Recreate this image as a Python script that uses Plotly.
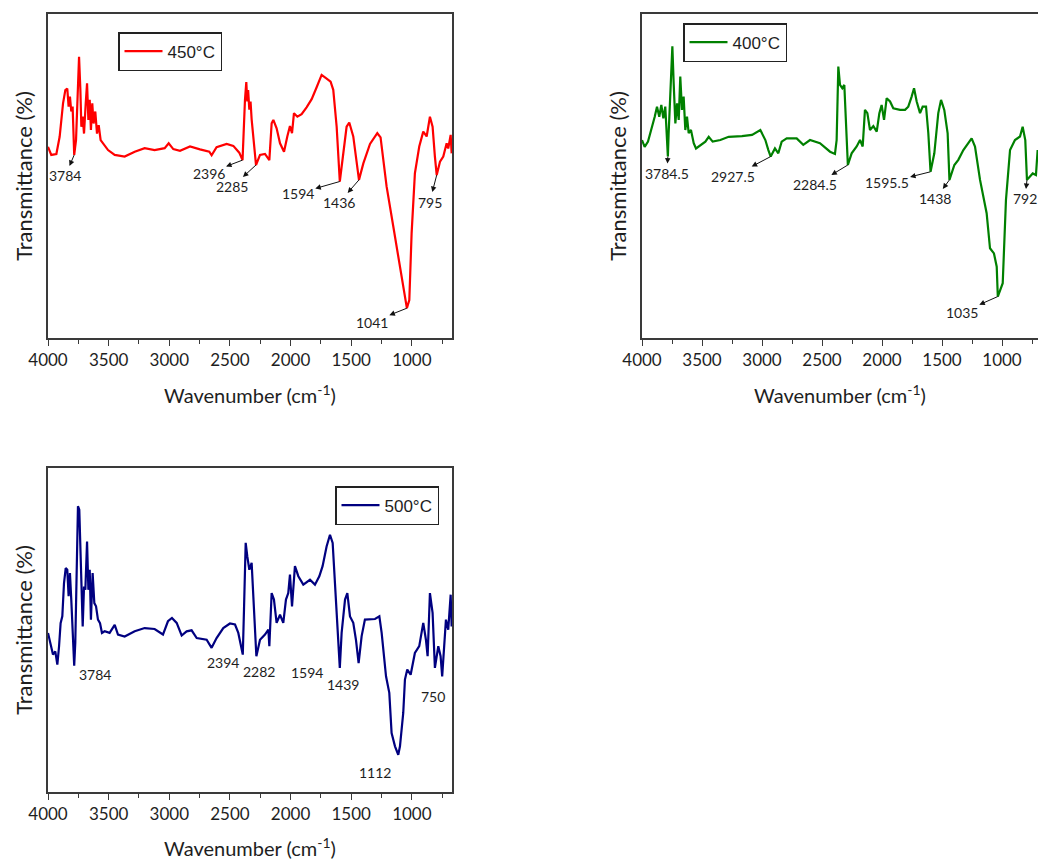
import plotly.graph_objects as go

# ---------------- spectra: wavenumber (cm-1) and transmittance (%) ----------------
wn_450 = [4000, 3973, 3931, 3904, 3876, 3857, 3841, 3830, 3819, 3808, 3797, 3784, 3769, 3758, 3744,
          3733, 3725, 3714, 3703, 3689, 3678, 3667, 3656, 3646, 3635, 3624, 3610, 3596, 3582, 3566,
          3547, 3505, 3450, 3368, 3285, 3203, 3121, 3038, 3005, 2967, 2912, 2829, 2747, 2670, 2651,
          2610, 2527, 2472, 2423, 2396, 2376, 2365, 2357, 2350, 2340, 2330, 2321, 2307, 2285, 2252,
          2211, 2175, 2156, 2142, 2115, 2087, 2054, 2027, 2005, 1988, 1972, 1944, 1909, 1868, 1826,
          1785, 1744, 1708, 1670, 1648, 1620, 1594, 1565, 1538, 1516, 1483, 1436, 1400, 1345, 1285,
          1258, 1208, 1153, 1098, 1057, 1041, 1021, 1002, 975, 939, 906, 878, 851, 829, 810,
          795, 768, 741, 713, 700, 680, 672]
t_450 = [59.0, 56.5, 56.8, 62.1, 72.4, 76.5, 77.0, 71.4, 74.5, 69.9, 71.4, 56.5, 61.1, 74.5, 86.8,
         76.5, 65.2, 68.3, 63.1, 72.4, 78.6, 67.3, 73.5, 64.2, 72.4, 66.2, 69.9, 63.1, 65.7, 61.1,
         60.1, 58.0, 56.5, 56.0, 57.5, 58.6, 58.0, 58.6, 60.1, 58.3, 57.8, 59.1, 58.2, 57.5, 56.4,
         58.9, 59.9, 59.3, 57.2, 54.9, 73.5, 79.0, 73.0, 76.5, 70.5, 73.0, 67.5, 61.1, 53.4, 56.5,
         56.8, 54.9, 66.3, 67.3, 64.7, 60.1, 57.5, 62.2, 65.4, 63.2, 69.4, 68.3, 69.1, 71.2, 73.7,
         77.4, 81.2, 80.2, 79.1, 76.6, 65.2, 48.3, 58.0, 65.2, 66.5, 62.2, 48.8, 53.9, 59.9, 63.2,
         61.9, 46.7, 34.4, 22.0, 13.8, 9.2, 11.7, 32.3, 50.8, 59.1, 63.7, 62.2, 68.3, 65.2, 56.0,
         50.3, 54.4, 56.0, 60.1, 58.5, 62.7, 57.0]

wn_400 = [4000, 3978, 3950, 3922, 3894, 3875, 3856, 3839, 3822, 3806, 3784.5, 3778, 3761, 3747, 3736,
          3722, 3708, 3694, 3681, 3667, 3653, 3639, 3625, 3611, 3592, 3569, 3550, 3514, 3472, 3444,
          3411, 3347, 3278, 3167, 3083, 3014, 2972, 2947, 2927.5, 2892, 2864, 2836, 2794, 2711, 2656,
          2600, 2517, 2433, 2392, 2378, 2364, 2350, 2331, 2314, 2300, 2284.5, 2253, 2211, 2183, 2161,
          2142, 2122, 2100, 2072, 2044, 2022, 2003, 1983, 1961, 1933, 1906, 1850, 1808, 1781, 1753,
          1733, 1711, 1683, 1661, 1633, 1614, 1595.5, 1564, 1531, 1508, 1481, 1453, 1438, 1397, 1364,
          1322, 1253, 1225, 1183, 1128, 1100, 1067, 1044, 1035, 994, 967, 933, 892, 850, 828,
          806, 792, 744, 717, 703]
t_400 = [61.1, 59.0, 60.6, 64.2, 68.3, 71.4, 68.3, 71.9, 67.8, 71.4, 56.0, 63.2, 79.6, 90.0, 78.6,
         66.2, 72.4, 67.3, 80.7, 70.4, 74.5, 64.2, 68.3, 63.2, 64.2, 60.1, 58.5, 59.6, 60.6, 62.1,
         60.6, 61.1, 62.1, 62.3, 62.7, 64.2, 61.1, 58.0, 56.0, 58.5, 57.0, 60.6, 61.6, 61.6, 59.6,
         61.1, 60.1, 57.5, 56.8, 61.1, 83.8, 78.1, 77.1, 78.1, 67.3, 53.4, 57.0, 59.1, 61.1, 59.1,
         70.4, 69.4, 64.2, 65.4, 63.7, 69.4, 71.9, 67.3, 74.0, 73.0, 70.9, 70.4, 70.4, 71.4, 74.5,
         77.1, 73.0, 69.4, 71.4, 71.4, 63.2, 51.3, 57.0, 69.4, 73.5, 70.4, 63.2, 48.8, 53.4, 55.0,
         58.0, 61.6, 59.1, 48.8, 38.5, 27.7, 26.1, 22.0, 12.8, 16.9, 42.6, 58.0, 61.1, 62.2, 65.2,
         61.1, 48.8, 50.8, 50.3, 58.0]

wn_500 = [4000, 3978, 3959, 3940, 3923, 3909, 3896, 3882, 3868, 3854, 3841, 3830, 3819, 3808, 3797,
          3784, 3775, 3764, 3753, 3742, 3733, 3725, 3714, 3703, 3692, 3678, 3667, 3656, 3646, 3632,
          3618, 3604, 3588, 3571, 3555, 3533, 3492, 3450, 3423, 3368, 3285, 3203, 3121, 3052, 3011,
          2978, 2939, 2898, 2857, 2816, 2774, 2692, 2651, 2610, 2555, 2500, 2458, 2431, 2394, 2384,
          2370, 2357, 2340, 2321, 2307, 2282, 2252, 2211, 2183, 2175, 2156, 2137, 2115, 2087, 2060,
          2038, 2019, 2005, 1988, 1964, 1936, 1895, 1840, 1799, 1763, 1736, 1703, 1675, 1653, 1634,
          1615, 1594, 1579, 1551, 1532, 1510, 1483, 1461, 1439, 1414, 1387, 1345, 1304, 1268, 1249,
          1213, 1186, 1167, 1139, 1112, 1098, 1071, 1057, 1038, 1010, 975, 939, 906, 884, 870,
          851, 829, 810, 782, 763, 750, 719, 700, 680, 672]
t_500 = [49.1, 44.9, 42.4, 43.4, 39.3, 44.9, 52.1, 54.2, 64.5, 69.1, 68.6, 60.4, 67.6, 59.3, 50.1,
         39.0, 46.1, 62.5, 88.2, 87.1, 72.7, 59.3, 51.1, 63.4, 62.4, 77.3, 62.4, 68.6, 53.2, 67.6,
         58.3, 57.3, 53.2, 52.1, 49.1, 49.6, 49.1, 51.6, 48.6, 48.0, 49.6, 50.6, 50.3, 48.6, 52.7,
         53.7, 52.2, 48.3, 49.6, 49.9, 47.5, 47.0, 44.5, 47.5, 50.6, 52.0, 51.7, 49.1, 42.4, 56.3,
         76.9, 72.8, 68.6, 70.7, 59.4, 41.9, 47.0, 48.6, 50.1, 45.0, 61.4, 59.4, 52.2, 54.7, 52.2,
         59.4, 61.4, 67.1, 57.3, 69.7, 66.6, 64.0, 65.5, 64.0, 66.6, 69.7, 75.8, 79.4, 76.9, 65.5,
         53.2, 38.3, 49.1, 59.4, 61.4, 54.2, 52.2, 47.0, 39.8, 48.1, 53.2, 53.2, 53.4, 54.2, 49.1,
         35.7, 30.6, 18.2, 14.1, 11.5, 14.1, 24.4, 34.7, 37.8, 36.2, 42.9, 45.0, 52.2, 47.0, 41.9,
         61.4, 55.3, 38.3, 45.0, 41.9, 35.7, 53.2, 50.1, 60.9, 51.1]

# marked band positions (cm-1)
peaks_450 = [3784, 2396, 2285, 1594, 1436, 1041, 795]
peaks_400 = [3784.5, 2927.5, 2284.5, 1595.5, 1438, 1035, 792]
peaks_500 = [3784, 2394, 2282, 1594, 1439, 1112, 750]

# label placement: pixel offset (right, down) from the band to the label centre
offs_450 = [(-9, 21), (-34, 13), (-24, 22), (-42, 12), (-20, 23), (-35, 14), (-7, 27)]
offs_400 = [(-1, 17), (-38, 20), (-33, 20), (-44, 11), (-14, 19), (-36, 16), (-2, 19)]
offs_500 = [(21, 9), (-20, 8), (3, 15), (-33, 5), (-16, 21), (-23, 18), (-9, 20)]

W, H = 1038, 860
FONT = "Lato, 'Open Sans', sans-serif"
LEG_FONT = "'Liberation Sans', Arial, sans-serif"
AXC = "#3a3a3a"
TXT = "#1e1e1e"


def px(v, total):
    return v / total


fig = go.Figure()

panels = [
    dict(name="450°C", wn=wn_450, t=t_450, color="#ff0000", xa="x", ya="y", leg="legend",
         xdom=[px(48, W), px(452, W)], ydom=[1 - px(338, H), 1 - px(14, H)], xr=[4000, 669],
         peaks=peaks_450, offs=offs_450, arrows=True, mirror_y=True),
    dict(name="400°C", wn=wn_400, t=t_400, color="#008000", xa="x2", ya="y2", leg="legend2",
         xdom=[px(642, W), 1.0], ydom=[1 - px(338, H), 1 - px(14, H)], xr=[4000, 700],
         peaks=peaks_400, offs=offs_400, arrows=True, mirror_y=False),
    dict(name="500°C", wn=wn_500, t=t_500, color="#000080", xa="x3", ya="y3", leg="legend3",
         xdom=[px(48, W), px(452, W)], ydom=[1 - px(792, H), 1 - px(468, H)], xr=[4000, 669],
         peaks=peaks_500, offs=offs_500, arrows=False, mirror_y=True),
]

annotations = []
for i, p in enumerate(panels):
    fig.add_trace(go.Scatter(
        x=p["wn"], y=p["t"], mode="lines", name=p["name"],
        line=dict(color=p["color"], width=2.2),
        xaxis=p["xa"], yaxis=p["ya"], legend=p["leg"],
    ))
    suffix = "" if i == 0 else str(i + 1)
    fig.update_layout(**{
        "xaxis" + suffix: dict(
            domain=p["xdom"], anchor="y" + suffix, range=p["xr"], automargin=False,
            showline=True, mirror=True, linecolor=AXC, linewidth=1.5,
            ticks="outside", ticklen=6, tickwidth=1.2, tickcolor=AXC,
            tick0=0, dtick=500, showgrid=False, zeroline=False,
            minor=dict(ticks="outside", ticklen=4, tickwidth=1.2, tickcolor=AXC,
                       tick0=0, dtick=250, showgrid=False),
            tickfont=dict(family=FONT, size=17, color=TXT),
            title=dict(text="Wavenumber (cm<sup>-1</sup>)", standoff=20,
                       font=dict(family=FONT, size=20, color=TXT)),
        ),
        "yaxis" + suffix: dict(
            domain=p["ydom"], anchor="x" + suffix, range=[0, 100], automargin=False,
            showline=True, mirror=p["mirror_y"], linecolor=AXC, linewidth=1.5,
            ticks="", showticklabels=False, showgrid=False, zeroline=False,
            title=dict(text="Transmittance (%)", standoff=8,
                       font=dict(family=FONT, size=22, color=TXT)),
        ),
    })
    lookup = dict(zip(p["wn"], p["t"]))
    for pk, (dx, dy) in zip(p["peaks"], p["offs"]):
        base = dict(x=pk, y=lookup[pk], xref=p["xa"], yref=p["ya"], text=f"{pk:g}",
                    font=dict(family=FONT, size=14, color=TXT))
        if p["arrows"]:
            # arrow runs from the band down to its label, head at the label end
            annotations.append(dict(
                base, showarrow=True, ax=dx, ay=dy, arrowside="start",
                startarrowhead=2, startarrowsize=1.1, arrowwidth=1, arrowcolor="#111111",
                standoff=0, startstandoff=0,
            ))
        else:
            annotations.append(dict(base, showarrow=False, xshift=dx, yshift=-dy))

leg_common = dict(
    bgcolor="white", bordercolor="#222222", borderwidth=1.5,
    font=dict(family=LEG_FONT, size=17, color=TXT),
    xanchor="left", yanchor="top", tracegroupgap=0, itemwidth=38,
)
fig.update_layout(
    template="none",
    width=W, height=H,
    margin=dict(l=0, r=0, t=0, b=0, autoexpand=False),
    paper_bgcolor="white", plot_bgcolor="white",
    annotations=annotations,
    legend=dict(leg_common, x=px(118, W), y=1 - px(32, H)),
    legend2=dict(leg_common, x=px(683, W), y=1 - px(23, H)),
    legend3=dict(leg_common, x=px(335, W), y=1 - px(486, H)),
    showlegend=True,
)

fig.write_html("out.html")
